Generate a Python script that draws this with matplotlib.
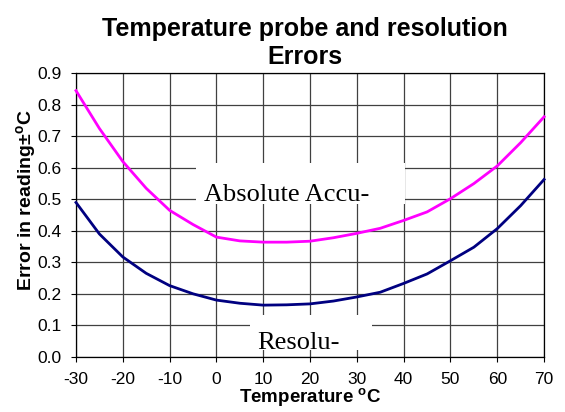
import matplotlib
matplotlib.use("Agg")
import matplotlib.pyplot as plt
from matplotlib.patches import Rectangle

temps = [-30, -25, -20, -15, -10, -5, 0, 5, 10, 15, 20, 25, 30, 35, 40, 45, 50, 55, 60, 65, 70]
absolute_accuracy = [0.845, 0.725, 0.62, 0.535, 0.465, 0.42, 0.38, 0.368, 0.364, 0.364, 0.367,
                     0.378, 0.392, 0.408, 0.433, 0.46, 0.502, 0.55, 0.606, 0.68, 0.762]
resolution = [0.49, 0.39, 0.317, 0.265, 0.226, 0.2, 0.18, 0.17, 0.164, 0.165, 0.168,
              0.177, 0.19, 0.205, 0.233, 0.263, 0.305, 0.348, 0.407, 0.48, 0.563]
xticks = [-30, -20, -10, 0, 10, 20, 30, 40, 50, 60, 70]
yticks = [0.0, 0.1, 0.2, 0.3, 0.4, 0.5, 0.6, 0.7, 0.8, 0.9]

plt.rcParams['font.family'] = ['Liberation Sans', 'DejaVu Sans']
plt.rcParams['mathtext.fontset'] = 'custom'
plt.rcParams['mathtext.rm'] = 'Liberation Sans'
plt.rcParams['mathtext.bf'] = 'Liberation Sans:bold'

fig = plt.figure(figsize=(5.65, 4.12), dpi=100)
ax = fig.add_axes([0.1345, 0.134, 0.8285, 0.688])

ax.set_xlim(-30, 70)
ax.set_ylim(0, 0.9)
ax.set_xticks(xticks)
ax.set_xticklabels([str(t) for t in xticks])
ax.set_yticks(yticks)
ax.set_yticklabels([f"{v:.1f}" for v in yticks])
ax.tick_params(direction='out', length=3.6, width=0.8, labelsize=12.5, color='black')
ax.tick_params(axis='y', pad=7)
ax.tick_params(axis='x', pad=7)
ax.grid(True, color='#404040', linewidth=0.9)
ax.set_axisbelow(True)
for s in ax.spines.values():
    s.set_color('black')
    s.set_linewidth(0.9)

# label boxes (white) covering grid
ax.add_patch(Rectangle((-4.4, 0.485), 44.7, 0.13, facecolor='white', edgecolor='none', zorder=1.5))
ax.add_patch(Rectangle((7.2, 0.02), 26.0, 0.112, facecolor='white', edgecolor='none', zorder=1.5))
ax.text(14.95, 0.495, "Absolute Accu-", family='Liberation Serif', fontsize=19,
        ha='center', va='baseline', zorder=2)
ax.text(17.6, 0.024, "Resolu-", family='Liberation Serif', fontsize=19,
        ha='center', va='baseline', zorder=2)

ax.plot(temps, absolute_accuracy, color='#FF00FF', linewidth=2.0, zorder=3, clip_on=False)
ax.plot(temps, resolution, color='#000080', linewidth=2.0, zorder=3, clip_on=False)

ax.set_title("Temperature probe and resolution\nErrors", fontsize=18, fontweight='bold',
             pad=7, linespacing=1.2, x=0.49)
ax.set_xlabel(r"Temperature $^{\mathbf{o}}$C", fontsize=13.5, fontweight='bold', labelpad=0)
ax.set_ylabel(r"Error in reading±$^{\mathbf{o}}$C", fontsize=14, fontweight='bold')
ax.yaxis.set_label_coords(-0.08, 0.553)

fig.savefig("out.png", dpi=100)
